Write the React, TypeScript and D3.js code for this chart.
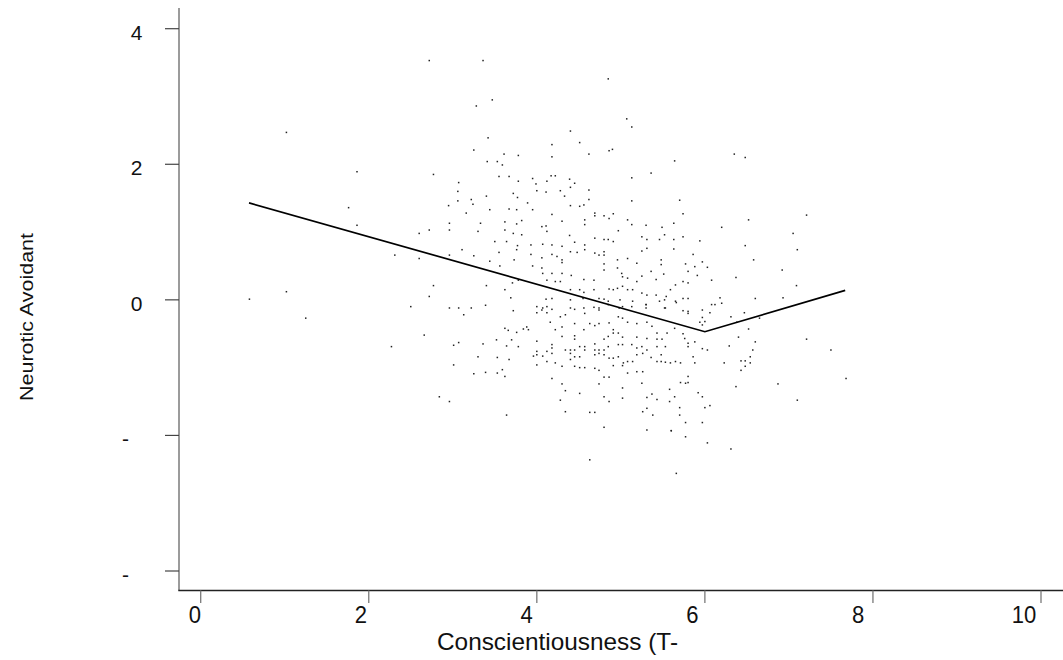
import React from "react";
import * as d3 from "d3";

const xTicks = [0, 2, 4, 6, 8, 10];
const xTickLabels = ["0", "2", "4", "6", "8", "10"];
const yTicks = [4, 2, 0, -2, -4];
const yTickLabels = ["4", "2", "0", "-", "-"];
const xTitle = "Conscientiousness (T-";
const yTitle = "Neurotic Avoidant";

// Fitted piecewise line (Conscientiousness, Neurotic Avoidant)
const fitX = [0.575, 6.0, 7.67];
const fitY = [1.43, -0.47, 0.14];

// Scatter points [Conscientiousness, Neurotic Avoidant]
const points: [number, number][] = [
  [1.02, 2.47], [1.86, 1.89], [1.76, 1.36], [1.86, 1.1], [0.58, 0.01], [1.02, 0.12], [1.25, -0.27],
  [2.72, 3.53], [3.36, 3.53], [4.85, 3.26], [3.47, 2.95], [3.28, 2.86], [5.07, 2.67], [5.13, 2.55],
  [3.42, 2.39], [4.4, 2.49], [4.51, 2.32], [4.18, 2.29], [3.25, 2.21], [3.61, 2.15], [3.78, 2.13],
  [4.62, 2.15], [4.18, 2.11], [4.86, 2.2], [4.9, 2.22], [5.64, 2.05], [3.41, 2.04], [3.53, 2.04],
  [3.59, 1.99], [2.77, 1.85], [3.55, 1.82], [3.67, 1.82], [3.95, 1.79], [4.17, 1.83], [4.22, 1.83],
  [4.39, 1.78], [4.12, 1.75], [3.78, 1.75], [3.99, 1.71], [3.07, 1.73], [5.13, 1.8], [5.36, 1.87],
  [4.45, 1.72], [4.4, 1.66], [3.06, 1.6], [4.0, 1.61], [4.11, 1.59], [4.28, 1.61], [4.62, 1.62],
  [3.72, 1.57], [3.4, 1.53], [3.77, 1.51], [4.33, 1.53], [3.22, 1.48], [4.62, 1.48], [5.7, 1.47],
  [3.06, 1.46], [3.89, 1.43], [5.13, 1.46], [2.95, 1.39], [3.24, 1.41], [4.4, 1.39], [4.51, 1.38],
  [4.56, 1.4], [3.67, 1.34], [3.76, 1.33], [3.44, 1.33], [3.95, 1.33], [3.16, 1.28], [4.18, 1.26],
  [4.69, 1.28], [4.69, 1.24], [4.8, 1.24], [4.91, 1.27], [4.86, 1.2], [3.62, 1.15], [3.76, 1.12],
  [3.82, 1.17], [3.33, 1.13], [4.06, 1.08], [4.11, 1.09], [4.3, 1.16], [4.57, 1.11], [4.57, 1.18],
  [5.08, 1.18], [5.13, 1.11], [5.3, 1.1], [5.49, 1.07], [5.63, 1.13], [2.96, 1.13], [2.96, 1.03],
  [2.6, 0.98], [2.72, 1.03], [3.3, 1.01], [3.62, 1.03], [3.72, 0.98], [3.82, 0.96], [4.12, 1.01],
  [4.39, 0.95], [4.69, 0.91], [4.8, 0.89], [4.97, 1.02], [4.85, 0.89], [4.91, 0.86], [5.25, 0.93],
  [5.31, 0.89], [5.46, 0.89], [5.52, 0.96], [5.63, 0.89], [3.5, 0.86], [3.64, 0.86], [3.77, 0.8],
  [3.93, 0.81], [4.07, 0.82], [4.18, 0.81], [4.3, 0.79], [4.45, 0.85], [4.57, 0.81], [4.57, 0.74],
  [3.55, 0.7], [3.76, 0.74], [3.93, 0.67], [4.06, 0.62], [4.18, 0.67], [4.24, 0.64], [4.3, 0.59],
  [4.3, 0.55], [4.4, 0.71], [4.48, 0.7], [4.69, 0.69], [4.74, 0.66], [4.8, 0.71], [4.8, 0.66],
  [4.96, 0.59], [5.08, 0.61], [5.19, 0.54], [5.25, 0.72], [5.31, 0.76], [5.48, 0.59], [5.48, 0.52],
  [5.63, 0.75], [2.31, 0.66], [2.6, 0.61], [2.96, 0.66], [3.11, 0.74], [3.25, 0.65], [3.44, 0.57],
  [3.56, 0.5], [3.73, 0.59], [3.95, 0.5], [4.06, 0.47], [4.07, 0.39], [4.18, 0.39], [4.3, 0.39],
  [4.41, 0.36], [4.56, 0.3], [4.68, 0.29], [4.8, 0.53], [4.8, 0.44], [4.96, 0.47], [5.01, 0.39],
  [5.02, 0.34], [5.08, 0.32], [5.19, 0.27], [5.25, 0.35], [5.36, 0.42], [5.42, 0.3], [5.51, 0.38],
  [5.65, 0.22], [5.59, 0.15], [2.77, 0.21], [3.4, 0.21], [3.62, 0.15], [3.71, 0.25], [3.78, 0.29],
  [4.12, 0.29], [4.22, 0.27], [4.28, 0.27], [4.4, 0.15], [4.51, 0.15], [4.56, 0.11], [4.68, 0.15],
  [4.86, 0.16], [4.91, 0.15], [4.96, 0.17], [5.02, 0.2], [5.08, 0.15], [5.14, 0.15], [5.25, 0.1],
  [5.31, 0.07], [5.42, 0.07], [5.54, 0.05], [2.72, 0.05], [3.69, 0.03], [4.11, 0.01], [4.18, 0.02],
  [4.4, 0.0], [4.55, 0.02], [4.74, 0.02], [4.8, 0.01], [4.85, -0.02], [4.99, 0.0], [5.14, -0.02],
  [5.3, -0.07], [5.46, -0.02], [5.52, 0.0], [5.66, -0.04], [2.5, -0.1], [2.96, -0.12], [3.07, -0.12],
  [3.22, -0.12], [4.07, -0.12], [4.12, -0.1], [4.4, -0.12], [4.56, -0.12], [4.68, -0.11], [4.74, -0.12],
  [4.98, -0.12], [5.3, -0.12], [5.52, -0.12], [3.39, -0.08],
  [3.13, -0.22], [3.72, -0.16], [4.0, -0.1], [4.06, -0.15], [4.18, -0.14], [4.0, -0.19], [4.12, -0.19],
  [4.28, -0.25], [4.34, -0.22], [4.45, -0.14], [4.57, -0.2], [4.74, -0.15], [4.85, -0.07], [4.97, -0.25],
  [5.02, -0.1], [5.02, -0.27], [5.13, -0.1], [5.3, -0.07], [5.65, -0.02], [5.53, -0.12], [3.62, -0.42],
  [3.66, -0.45], [3.76, -0.48], [3.84, -0.43], [3.88, -0.4], [3.9, -0.44], [2.66, -0.52], [2.27, -0.69],
  [3.01, -0.67], [3.07, -0.63], [3.36, -0.65], [3.52, -0.59], [3.64, -0.68], [3.7, -0.59], [3.78, -0.69],
  [4.0, -0.61], [4.16, -0.33], [4.22, -0.44], [4.3, -0.4], [4.45, -0.35], [4.56, -0.44], [4.63, -0.35],
  [4.69, -0.38], [4.74, -0.35], [4.86, -0.34], [4.91, -0.44], [4.97, -0.49], [5.02, -0.55], [5.08, -0.33],
  [5.19, -0.35], [5.31, -0.33], [5.37, -0.39], [5.43, -0.49], [5.55, -0.49], [5.49, -0.58], [5.43, -0.58],
  [5.64, -0.42], [4.18, -0.66], [4.18, -0.71], [4.3, -0.54], [4.45, -0.53], [4.45, -0.58], [4.51, -0.69],
  [4.57, -0.69], [4.69, -0.65], [4.8, -0.58], [4.85, -0.54], [4.85, -0.69], [4.91, -0.49], [4.97, -0.66],
  [5.02, -0.66], [5.13, -0.66], [5.19, -0.55], [5.19, -0.71], [5.25, -0.69], [5.31, -0.57], [5.31, -0.74],
  [5.43, -0.69], [5.48, -0.81], [5.53, -0.69], [4.0, -0.76], [4.0, -0.81], [4.07, -0.83], [4.12, -0.76],
  [4.18, -0.79], [4.34, -0.74], [4.4, -0.74], [4.4, -0.79], [4.45, -0.74], [4.4, -0.88], [4.45, -0.84],
  [4.51, -0.84], [4.57, -0.74], [4.69, -0.74], [4.69, -0.81], [4.74, -0.74], [4.74, -0.79], [4.8, -0.74],
  [4.8, -0.81], [4.86, -0.86], [4.91, -0.86], [4.97, -0.84], [5.03, -0.93], [5.08, -0.91], [5.14, -0.91],
  [5.19, -0.81], [5.26, -0.79], [5.36, -0.85], [5.43, -0.91], [5.48, -0.91], [5.53, -0.92], [5.59, -0.93],
  [5.65, -0.91], [3.96, -0.83], [3.53, -0.85], [3.67, -0.88], [3.3, -0.84], [3.01, -0.96], [3.25, -1.09],
  [3.39, -1.07], [3.53, -1.08], [3.59, -1.03], [3.62, -1.13], [4.0, -0.96], [4.12, -0.91], [4.22, -0.93],
  [4.3, -0.98], [4.45, -0.98], [4.51, -1.0], [4.57, -1.0], [4.69, -1.01], [4.74, -1.04], [4.8, -1.14],
  [4.86, -1.14], [4.91, -0.97], [5.02, -0.97], [5.08, -1.08], [5.19, -1.06], [5.26, -1.06], [4.18, -1.16],
  [4.3, -1.24], [4.34, -1.34], [4.51, -1.38], [4.74, -1.24], [5.02, -1.3], [5.25, -1.23], [5.37, -1.39],
  [5.43, -1.47], [5.31, -1.44], [5.58, -1.32], [5.64, -1.43], [5.58, -1.5], [2.84, -1.43], [2.96, -1.5],
  [3.64, -1.7], [4.28, -1.48], [4.34, -1.65], [4.63, -1.66], [4.69, -1.66], [4.8, -1.43], [4.86, -1.5],
  [5.02, -1.45], [5.31, -1.6], [5.26, -1.65], [5.38, -1.7], [4.8, -1.88], [5.31, -1.92], [5.6, -1.93],
  [4.63, -2.36], [5.66, -2.56],
  [6.35, 2.15], [6.48, 2.1], [5.74, 1.27], [6.52, 1.18], [7.21, 1.25], [6.2, 1.07], [7.05, 0.98],
  [5.74, 0.93], [5.94, 0.87], [6.48, 0.8], [7.1, 0.74], [5.86, 0.67], [5.97, 0.56], [6.58, 0.59],
  [5.77, 0.53], [5.88, 0.49], [6.03, 0.48], [6.92, 0.44], [5.8, 0.42], [5.91, 0.36], [6.37, 0.33],
  [6.08, 0.29], [5.74, 0.27], [5.8, 0.25], [7.09, 0.21], [5.8, 0.02], [5.74, 0.02], [6.18, 0.03],
  [6.6, 0.02], [6.93, 0.03], [6.2, -0.05], [6.08, -0.07], [6.12, -0.07], [5.74, -0.16], [5.8, -0.17],
  [5.8, -0.2], [5.97, -0.15], [6.06, -0.19], [6.47, -0.19], [6.31, -0.25], [5.97, -0.26], [5.94, -0.33],
  [6.0, -0.32], [5.97, -0.37], [6.38, -0.33], [6.65, -0.27], [6.52, -0.43], [5.74, -0.5], [5.76, -0.57],
  [5.88, -0.62], [5.8, -0.64], [5.8, -0.69], [5.97, -0.72], [6.03, -0.74], [6.29, -0.68], [6.4, -0.55],
  [6.6, -0.62], [6.57, -0.74], [7.21, -0.58], [7.5, -0.74], [5.86, -0.84], [5.88, -0.93], [5.71, -0.93],
  [6.23, -0.93], [6.43, -0.9], [6.48, -0.9], [6.54, -0.93], [6.54, -0.84], [6.43, -1.04], [6.48, -0.98],
  [5.8, -1.13], [5.8, -1.22], [5.71, -1.22], [5.77, -1.23], [6.37, -1.28], [6.87, -1.24], [7.68, -1.16],
  [5.92, -1.37], [5.97, -1.43], [7.1, -1.48], [6.0, -1.59], [6.06, -1.56], [5.7, -1.59], [5.7, -1.7],
  [5.77, -1.81], [5.97, -1.81], [5.6, -1.93], [5.77, -2.02], [6.03, -2.11], [6.31, -2.2],
];

const W = 1063;
const H = 660;
const axisLeft = 179;
const axisBottom = 590.5;
const font = "'Liberation Sans', Arial, sans-serif";

export default function App() {
  const x = d3.scaleLinear().domain([0, 10]).range([200.7, 1041]);
  const y = d3.scaleLinear().domain([-4, 4]).range([571, 28.7]);
  // tick labels in the source sit slightly left of their ticks
  const xLabel = d3.scaleLinear().domain([0, 10]).range([195, 1024]);

  const line = d3
    .line<number>()
    .x((_, i) => x(fitX[i]))
    .y((_, i) => y(fitY[i]));

  return (
    <svg
      width={W}
      height={H}
      style={{ position: "absolute", left: 0, top: 0, background: "#fff" }}
      fontFamily={font}
    >
      <rect x={0} y={0} width={W} height={H} fill="#fff" />
      {/* y axis */}
      <line x1={axisLeft} x2={axisLeft} y1={8} y2={axisBottom} stroke="#7a7a7a" strokeWidth={1.5} />
      {yTicks.map((t, i) => (
        <g key={"yt" + i}>
          <line x1={165} x2={axisLeft} y1={y(t)} y2={y(t)} stroke="#444" strokeWidth={1.2} />
          <text
            x={yTickLabels[i] === "-" ? 129 : 142.5}
            y={y(t) + 10.8}
            textAnchor="end"
            fontSize={21}
            fill="#111"
          >
            {yTickLabels[i]}
          </text>
        </g>
      ))}
      {/* x axis */}
      <line x1={axisLeft - 0.7} x2={W} y1={axisBottom} y2={axisBottom} stroke="#222" strokeWidth={1.3} />
      {xTicks.map((t, i) => (
        <g key={"xt" + i}>
          <line x1={x(t)} x2={x(t)} y1={axisBottom} y2={603} stroke="#7a7a7a" strokeWidth={1.3} />
          <text
            x={xLabel(t)}
            y={623}
            textAnchor="middle"
            fontSize={24}
            fill="#111"
            transform={`translate(${xLabel(t)},0) scale(0.92,1) translate(${-xLabel(t)},0)`}
          >
            {xTickLabels[i]}
          </text>
        </g>
      ))}
      <text x={437} y={649.5} fontSize={24} fill="#111" textLength={241} lengthAdjust="spacingAndGlyphs">
        {xTitle}
      </text>
      <text
        transform="translate(33,317) rotate(-90)"
        textAnchor="middle"
        fontSize={19}
        fill="#111"
        textLength={168}
        lengthAdjust="spacingAndGlyphs"
      >
        {yTitle}
      </text>
      {/* scatter */}
      <g fill="#222">
        {points.map((p, i) => (
          <rect key={i} x={x(p[0]) - 0.75} y={y(p[1]) - 0.75} width={1.5} height={1.5} />
        ))}
      </g>
      {/* fitted line */}
      <path d={line(fitX) || ""} fill="none" stroke="#000" strokeWidth={1.7} />
    </svg>
  );
}
